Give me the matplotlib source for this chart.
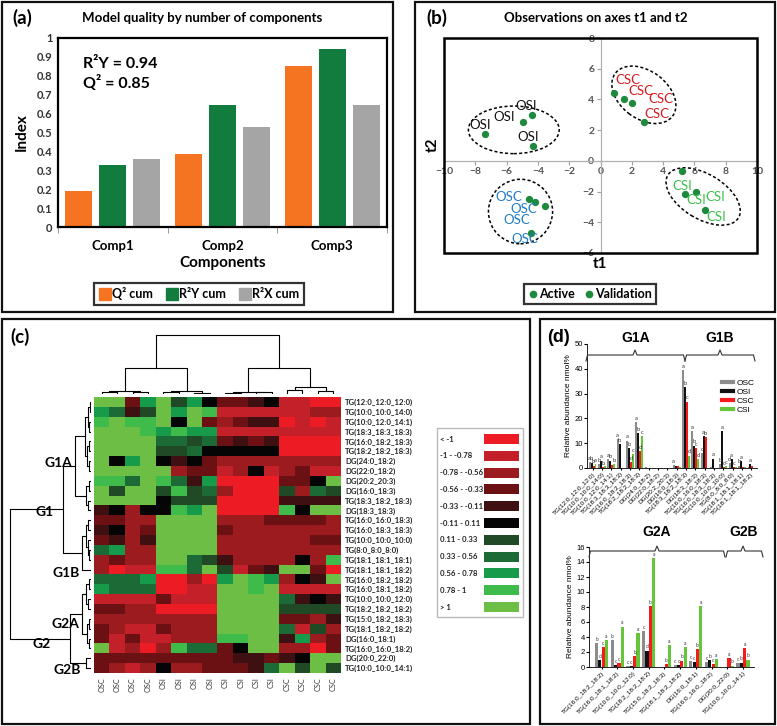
import numpy as np
import matplotlib
matplotlib.use('Agg')
import matplotlib.pyplot as plt
from matplotlib.colors import ListedColormap, BoundaryNorm
from matplotlib.patches import Rectangle, Ellipse
from matplotlib.lines import Line2D

W, H = 777, 726
plt.rcParams['font.family'] = ['Lato', 'DejaVu Sans']

# ---------------- (a) model quality by number of components
components = ['Comp1', 'Comp2', 'Comp3']
q2_cum = [0.19, 0.385, 0.85]
r2y_cum = [0.33, 0.645, 0.94]
r2x_cum = [0.36, 0.53, 0.645]

# ---------------- (b) observations on t1 / t2
score_groups = ['OSI', 'OSC', 'CSC', 'CSI']
osi_t1 = [-7.39, -4.96, -4.39, -4.30]
osi_t2 = [1.78, 2.54, 2.97, 1.00]
osc_t1 = [-4.54, -4.18, -3.54, -4.45]
osc_t2 = [-2.47, -2.71, -2.97, -4.69]
csc_t1 = [0.89, 1.53, 2.02, 2.77]
csc_t2 = [4.41, 4.01, 3.75, 2.54]
csi_t1 = [5.18, 5.41, 6.13, 6.69]
csi_t2 = [-0.63, -2.15, -2.04, -3.21]

# ---------------- (c) heatmap (colour class -5 .. 5, see legend)
lipids = ['TG(12:0_12:0_12:0)', 'TG(10:0_10:0_14:0)', 'TG(10:0_12:0_14:1)',
          'TG(18:3_18:3_18:3)', 'TG(16:0_18:2_18:3)', 'TG(18:2_18:2_18:3)',
          'DG(24:0_18:2)', 'DG(22:0_18:2)', 'DG(20:2_20:3)', 'DG(16:0_18:3)',
          'TG(18:3_18:2_18:3)', 'DG(18:3_18:3)', 'TG(16:0_16:0_18:3)',
          'TG(16:0_18:3_18:3)', 'TG(10:0_10:0_10:0)', 'TG(8:0_8:0_8:0)',
          'TG(18:1_18:1_18:1)', 'TG(18:1_18:1_18:2)', 'TG(16:0_18:2_18:2)',
          'TG(16:0_18:1_18:2)', 'TG(10:0_10:0_12:0)', 'TG(18:2_18:2_18:2)',
          'TG(15:0_18:2_18:3)', 'TG(18:1_18:2_18:2)', 'DG(16:0_18:1)',
          'TG(16:0_16:0_18:2)', 'DG(20:0_22:0)', 'TG(10:0_10:0_14:1)']
samples = ['OSC'] * 4 + ['OSI'] * 4 + ['CSI'] * 4 + ['CSC'] * 4
heat = [
    [5, 5, -2, 3, 5, 1, 3, 0, -2, -2, -1, 0, -4, -4, -5, -5],
    [3, 2, -1, 1, 5, 3, 5, 4, -4, -4, -4, -4, -4, -4, -3, -3],
    [4, 5, 4, 4, 5, 0, 5, -2, -3, -2, -1, -1, -5, -4, -5, -4],
    [5, 5, 5, 4, 3, 4, 3, 3, -4, -4, -4, -4, -4, -4, -4, -4],
    [5, 5, 5, 5, 2, 2, 1, 2, -2, -1, -2, -1, -5, -5, -5, -5],
    [5, 5, 5, 5, 1, 1, 2, 0, 0, 0, 0, 0, -5, -5, -5, -5],
    [5, 0, 3, 5, 0, -1, 0, -2, -3, -3, -3, -3, -3, -3, -3, -3],
    [5, 5, 5, 5, 5, -3, -2, -2, -4, -3, 0, -4, -3, -2, -4, -4],
    [4, 4, 2, 5, 4, 2, -1, 3, -5, -5, -5, -5, -2, -2, 0, 5],
    [5, 1, 5, 5, 1, 4, 1, 2, -3, -5, -5, -5, 1, -3, 2, 1],
    [5, 5, 5, 5, 0, 1, 1, 1, -5, -5, -5, -5, -1, -1, -1, -1],
    [-1, 0, -3, 0, 0, 4, 3, 5, -5, -5, -5, -5, 4, 0, 5, 5],
    [-2, -2, -3, -3, 5, 5, 5, 5, -3, -3, -3, -2, -2, -2, -2, -3],
    [-1, 0, -3, -2, 5, 5, 5, 5, -2, -3, -3, -3, -3, -3, -3, -3],
    [-2, -1, -3, -1, 5, 5, 5, 5, -3, -3, -3, -3, -3, -3, -2, -2],
    [2, 3, -3, -3, 5, 5, 5, 5, -3, -3, -3, -3, -3, -3, -3, -3],
    [-3, -2, -3, -3, 5, 5, 2, 1, -1, -3, -3, -3, -3, 0, -3, 4],
    [-3, -5, -4, -4, 4, 4, 2, 5, 1, -4, -2, -1, 5, 5, -2, -5],
    [2, 2, 2, 3, -5, -5, -3, -5, 3, 5, 4, 3, -3, 0, -1, 5],
    [3, 2, 2, 2, -5, -5, -4, -4, 5, 5, 4, 5, -4, -4, -4, -4],
    [-4, -4, -4, -4, -2, -4, -4, -4, 5, 5, 5, 5, 2, -1, 0, -1],
    [-2, -2, -3, -3, -5, -5, -5, -5, 5, 5, 5, 5, 1, 1, 1, 1],
    [-3, -3, -3, -3, -3, -3, -3, -3, 5, 5, 5, 5, -2, -2, -3, -1],
    [-2, -3, -4, -4, -2, -3, -3, -3, 5, 5, 5, 5, 2, -4, 1, -3],
    [-2, -4, -2, -4, -4, -3, -3, -3, 4, 4, 5, 5, -1, 3, -3, -2],
    [5, -4, -3, -5, -3, 4, 2, 2, -2, 0, 5, 5, -3, -3, -5, -2],
    [-2, -2, -2, -2, -2, -2, -2, -2, -2, -1, -1, -2, -1, 0, 5, 5],
    [-2, -3, -4, -3, 0, -3, -3, -2, -2, -2, -1, 2, 5, 1, 5, 1],
]
bin_labels = ['< -1', '-1 - -0.78', '-0.78 - -0.56', '-0.56 - -0.33', '-0.33 - -0.11',
              '-0.11 - 0.11', '0.11 - 0.33', '0.33 - 0.56', '0.56 - 0.78', '0.78 - 1', '> 1']
bin_colors = ['#ED1C24', '#C4202A', '#9B1B1F', '#6B1013', '#3E1011', '#050505',
              '#1F4A25', '#1C6A36', '#169B4A', '#3EBB4B', '#6CBE45']

# dendrograms: (height, left, right), leaves are column / row indices
col_tree = (56, (25, (3, (1.5, 0, 1), (1.5, 2, 3)), (3, (1.5, 4, 5), (1.0, 6, 7))),
            (25, (2, (1.0, 8, 9), (1.5, 10, 11)), (7, (4, 12, 13), (2.5, 14, 15))))
g1a = (16, (6, (3, (1.5, 0, 1), (2, 2, 3)), (4, (2.5, 4, 5), (2, 6, 7))),
       (5, (2.5, 8, 9), (3, 10, 11)))
g1b = (9, (5, (3, 12, 13), (3.5, 14, (2, 15, 16))), 17)
g2a = (9, (5, (2, 18, 19), (3, 20, 21)), (4, (2, 22, 23), (2.5, 24, 25)))
g2b = (5, 26, 27)
row_tree = (81, (28, g1a, g1b), (21, g2a, g2b))

# ---------------- (d) relative abundance
g1_names = lipids[:18]
g1_osc = [2.5, 1.5, 3.5, 11.5, 11.0, 18.5, 0.3, 0.2, 0.1, 1.2, 39.5, 15.0, 6.0, 0.3, 1.5, 2.0, 1.0, 0.5]
g1_osi = [2.2, 3.0, 3.0, 9.5, 8.0, 14.0, 0.2, 0.1, 0.1, 1.0, 32.5, 9.0, 13.0, 3.8, 15.0, 3.5, 2.8, 1.5]
g1_csc = [1.0, 0.3, 1.2, 0.2, 2.5, 6.8, 0.1, 0.1, 0.1, 0.8, 26.8, 8.0, 12.5, 0.2, 0.5, 0.3, 0.3, 0.7]
g1_csi = [1.5, 0.8, 1.5, 0.2, 5.5, 13.0, 0.1, 0.1, 0.1, 0.3, 5.0, 3.5, 0.2, 0.1, 0.8, 0.5, 0.3, 0.2]
g1_letters = ['abba', 'bab ', 'ab b', 'ab  ', 'abdc', 'abdc', '    ', '    ', '    ', 'a   ',
              'abcd', 'abcd', 'cab ', ' a  ', 'bacc', 'dac ', 'ba  ', ' a  ']
g2_names = lipids[18:]
g2_osc = [3.2, 3.6, 0.1, 4.8, 0.0, 0.3, 0.8, 0.7, 0.0, 0.5]
g2_osi = [0.9, 0.3, 0.1, 2.2, 0.0, 0.3, 0.7, 0.9, 0.0, 0.6]
g2_csc = [2.7, 0.5, 1.5, 8.1, 0.35, 0.85, 2.4, 0.4, 1.2, 2.5]
g2_csi = [3.6, 5.4, 4.5, 14.5, 2.9, 2.7, 8.1, 1.1, 0.2, 1.0]
g2_letters = ['bdca', 'bcca', 'ccba', 'cdba', '  ba', 'ccba', 'ccba', 'cbca', '  ab', 'cbab']

fig = plt.figure(figsize=(W / 100, H / 100), dpi=100)


def px_axes(x0, y0, x1, y1):
    return fig.add_axes([x0 / W, 1 - y1 / H, (x1 - x0) / W, (y1 - y0) / H])


def bold_ticks(ax):
    for t in ax.get_xticklabels() + ax.get_yticklabels():
        t.set_fontweight('bold')


# ===== (a)
ax = px_axes(58, 38, 387, 227)
x = np.arange(len(components))
ax.bar(x - 0.31, q2_cum, 0.245, color='#F47421', label='Q² cum')
ax.bar(x, r2y_cum, 0.245, color='#127C3F', label='R²Y cum')
ax.bar(x + 0.31, r2x_cum, 0.245, color='#A5A5A5', label='R²X cum')
ax.set_xlim(-0.5, 2.5)
ax.set_ylim(0, 1)
ax.set_yticks(np.arange(0, 1.01, 0.1))
ax.set_yticklabels([f'{v:g}' for v in np.arange(0, 1.01, 0.1)])
ax.set_xticks(x)
ax.set_xticklabels(components)
ax.set_xticks([-0.5, 0.5, 1.5, 2.5], minor=True)
ax.tick_params(axis='x', which='major', length=0, pad=9, labelsize=9.5)
ax.tick_params(axis='x', which='minor', length=4, color='#888888', direction='out')
ax.tick_params(axis='y', length=0, pad=4, labelsize=8, labelcolor='#333333')
bold_ticks(ax)
for s in ax.spines.values():
    s.set_linewidth(1.6)
ax.set_xlabel('Components', fontsize=11, fontweight='bold', labelpad=3)
ax.set_ylabel('Index', fontsize=11, fontweight='bold', labelpad=6)
ax.text(0.076, 0.86, 'R²Y = 0.94', transform=ax.transAxes, fontsize=11.5, fontweight='bold', va='center')
ax.text(0.076, 0.76, 'Q² = 0.85', transform=ax.transAxes, fontsize=11.5, fontweight='bold', va='center')
hs = [Line2D([], [], marker='s', ls='none', markersize=8.5, color=c) for c in ['#F47421', '#127C3F', '#A5A5A5']]
leg = ax.legend(hs, ['Q² cum', 'R²Y cum', 'R²X cum'], loc='center', ncol=3,
                bbox_to_anchor=(199 / W, 1 - 294 / H), bbox_transform=fig.transFigure,
                prop={'weight': 'bold', 'size': 9}, fancybox=False, edgecolor='black',
                handletextpad=0.1, columnspacing=1.0, borderpad=0.35, handlelength=1.0)
leg.get_frame().set_linewidth(1.6)

# ===== (b)
ax = px_axes(444, 38, 757, 253)
ax.set_xlim(-10, 10)
ax.set_ylim(-6, 8)
for side in ['top', 'right']:
    ax.spines[side].set_visible(False)
for side in ['left', 'bottom']:
    ax.spines[side].set_position(('data', 0))
    ax.spines[side].set_color('#B0B0B0')
    ax.spines[side].set_linewidth(0.9)
ax.add_patch(Rectangle((0, 0), 1, 1, transform=ax.transAxes, fill=False, lw=1.8,
                       ec='black', clip_on=False, zorder=5))
ax.set_xticks(np.arange(-10, 11, 2))
ax.set_yticks(np.arange(-6, 9, 2))
ax.tick_params(direction='out', length=3, color='#A0A0A0', labelsize=7.5, labelcolor='#555555', pad=1.5)
bold_ticks(ax)
pts_t1 = osi_t1 + osc_t1 + csc_t1 + csi_t1
pts_t2 = osi_t2 + osc_t2 + csc_t2 + csi_t2
ax.scatter(pts_t1, pts_t2, s=18, color='#1E8A3E', zorder=4)
label_colors = {'OSI': '#111111', 'OSC': '#1F7BC8', 'CSC': '#D71A20', 'CSI': '#3CBE4A'}
label_xy = {'OSI': [(-7.67, 2.34), (-6.18, 2.84), (-4.75, 3.54), (-4.62, 1.58)],
            'OSC': [(-5.86, -2.37), (-4.90, -3.15), (-5.37, -3.88), (-4.86, -5.10)],
            'CSC': [(1.75, 5.25), (2.55, 4.55), (3.83, 4.02), (3.62, 3.05)],
            'CSI': [(5.22, -1.61), (6.13, -2.54), (7.35, -2.36), (7.41, -3.67)]}
for g in score_groups:
    for (lx, ly) in label_xy[g]:
        ax.text(lx, ly, g, color=label_colors[g], fontsize=9.5, ha='center', va='center', zorder=4)
ellipses = [((-5.54, 2.02), 5.8, 3.1, 0), ((-5.11, -3.30), 4.1, 4.2, 0),
            ((2.77, 4.30), 4.6, 3.1, -38), ((6.56, -2.32), 5.3, 2.9, -32)]
for c, w, h, a in ellipses:
    ax.add_patch(Ellipse(c, w, h, angle=a, fill=False, ls=(0, (2, 1.5)), lw=1.1, ec='black'))
hs = [Line2D([], [], marker='o', ls='none', markersize=4.5, color='#1E8A3E')] * 2
leg = ax.legend(hs, ['Active', 'Validation'], loc='center', ncol=2,
                bbox_to_anchor=(590 / W, 1 - 294 / H), bbox_transform=fig.transFigure,
                prop={'weight': 'bold', 'size': 9}, fancybox=False, edgecolor='black',
                handletextpad=0.1, columnspacing=0.7, borderpad=0.35, handlelength=0.8)
leg.get_frame().set_linewidth(1.6)


# ===== (c)
def draw_tree(ax, node, vertical):
    if isinstance(node, int):
        return node, 0.0
    h, left, right = node
    pl, hl = draw_tree(ax, left, vertical)
    pr, hr = draw_tree(ax, right, vertical)
    pos, hts = [pl, pl, pr, pr], [hl, h, h, hr]
    if vertical:
        ax.plot(pos, hts, color='black', lw=0.8)
    else:
        ax.plot(hts, pos, color='black', lw=0.8)
    return (pl + pr) / 2, h


ax = px_axes(94, 397, 341, 673)
cmap = ListedColormap(bin_colors)
norm = BoundaryNorm(np.arange(-5.5, 6.5, 1), cmap.N)
ax.imshow(np.array(heat), cmap=cmap, norm=norm, aspect='auto', interpolation='nearest')
ax.set_xticks(np.arange(len(samples)))
ax.set_xticklabels(samples, rotation=90, fontsize=5.2, color='#333333')
ax.set_yticks(np.arange(len(lipids)))
ax.set_yticklabels(lipids, fontsize=5.6, fontweight='bold', color='#222222')
ax.yaxis.tick_right()
ax.tick_params(length=0, pad=3)
for s in ax.spines.values():
    s.set_visible(False)

axd = px_axes(94, 333, 341, 394)
draw_tree(axd, col_tree, True)
axd.set_xlim(-0.5, len(samples) - 0.5)
axd.set_ylim(0, 58)
axd.axis('off')

axd = px_axes(6, 397, 91, 673)
draw_tree(axd, row_tree, False)
axd.set_ylim(len(lipids) - 0.5, -0.5)
axd.set_xlim(85, 0)
axd.axis('off')

# ===== (d)
bar_cols = ['#8C8C8C', '#111111', '#F51B1B', '#66C63A']
offs = [-0.315, -0.105, 0.105, 0.315]


def abundance(ax, names, series, letters, ymax, ystep, fs):
    xx = np.arange(len(names))
    for k, vals in enumerate(series):
        ax.bar(xx + offs[k], vals, 0.2, color=bar_cols[k])
        for i, v in enumerate(vals):
            if letters[i][k] != ' ':
                ax.text(i + offs[k], v + ymax * 0.01, letters[i][k], fontsize=fs,
                        ha='center', va='bottom', color='#333333')
    ax.set_ylim(0, ymax)
    ax.set_yticks(np.arange(0, ymax + 0.1, ystep))
    ax.set_xticks(xx)
    ax.set_xticklabels(names, rotation=45, ha='right', rotation_mode='anchor', fontsize=4.6)
    ax.tick_params(axis='y', labelsize=5.5, length=2, pad=1)
    ax.tick_params(axis='x', length=1.5, pad=1)
    ax.spines['top'].set_visible(False)
    ax.spines['right'].set_visible(False)
    for s in ['left', 'bottom']:
        ax.spines[s].set_linewidth(0.6)
    ax.set_ylabel('Relative abundance nmol%', fontsize=6, labelpad=2)
    for t in ax.get_xticklabels() + ax.get_yticklabels():
        t.set_fontfamily('Liberation Sans')
    ax.yaxis.label.set_fontfamily('Liberation Sans')


ax = px_axes(587, 344, 757, 468)
abundance(ax, g1_names, [g1_osc, g1_osi, g1_csc, g1_csi], g1_letters, 50, 10, 4.2)
ax.set_xlim(-0.6, 17.6)
hs = [Line2D([], [], color=c, lw=3) for c in bar_cols]
ax.legend(hs, ['OSC', 'OSI', 'CSC', 'CSI'], loc='upper left',
          bbox_to_anchor=(718 / W, 1 - 375 / H), bbox_transform=fig.transFigure,
          frameon=False, prop={'family': 'Liberation Sans', 'size': 6},
          handlelength=1.3, handletextpad=0.4, labelspacing=0.15, borderpad=0)

ax = px_axes(589, 547, 754, 667)
abundance(ax, g2_names, [g2_osc, g2_osi, g2_csc, g2_csi], g2_letters, 16, 2, 3.6)
ax.set_xlim(-0.8, 9.7)

# ===== overlay: panel frames, titles, group labels, heatmap key, braces
ov = px_axes(0, 0, W, H)
ov.set_xlim(0, W)
ov.set_ylim(H, 0)
ov.axis('off')
ov.patch.set_alpha(0)
for x0, y0, x1, y1 in [(2, 2, 393, 312), (415, 2, 775, 312), (2, 319, 530, 724), (540, 319, 775, 724)]:
    ov.add_patch(Rectangle((x0, y0), x1 - x0, y1 - y0, fill=False, ec='#111111', lw=1.6))
ov.text(12, 18, '(a)', fontsize=13.5, fontweight='bold', va='center')
ov.text(202, 18, 'Model quality by number of components', fontsize=9.5, fontweight='bold',
        ha='center', va='center')
ov.text(426, 18, '(b)', fontsize=13.5, fontweight='bold', va='center')
ov.text(596, 18, 'Observations on axes t1 and t2', fontsize=9.5, fontweight='bold',
        ha='center', va='center')
ov.text(600, 264, 't1', fontsize=11, fontweight='bold', ha='center', va='center')
ov.text(433, 145, 't2', fontsize=11, fontweight='bold', ha='center', va='center', rotation=90)
ov.text(10, 337, '(c)', fontsize=13.5, fontweight='bold', va='center')
for txt, gx, gy in [('G1A', 58, 463), ('G1', 45, 512), ('G1B', 66, 573),
                    ('G2A', 65, 624), ('G2', 42, 644), ('G2B', 67, 670)]:
    ov.text(gx, gy, txt, fontsize=10, fontweight='bold', ha='center', va='center')
ov.add_patch(Rectangle((437, 428), 86, 189, fill=False, ec='#BBBBBB', lw=1))
for i, (lab, col) in enumerate(zip(bin_labels, bin_colors)):
    yy = 439 + 16.8 * i
    ov.text(440, yy, lab, fontsize=5.6, fontweight='bold', va='center', color='#222222')
    ov.add_patch(Rectangle((484, yy - 5), 35, 10, fc=col, ec='none'))
ov.text(547, 337, '(d)', fontsize=13, fontweight='bold', va='center', family='Liberation Sans')


def brace(x0, x1, xm, y, drop=6, peak=5):
    xs = [x0, x0 + 1.5, xm - 2, xm, xm + 2, x1 - 1.5, x1]
    ys = [y + drop, y, y, y - peak, y, y, y + drop]
    ov.plot(xs, ys, color='#333333', lw=0.8)


brace(586, 685, 635, 355)
brace(685, 755, 720, 355)
brace(589, 725, 657, 551)
brace(726, 763, 743, 551)
for txt, gx, gy in [('G1A', 636, 338), ('G1B', 720, 338), ('G2A', 657, 532), ('G2B', 744, 532)]:
    ov.text(gx, gy, txt, fontsize=10, fontweight='bold', ha='center', va='center',
            family='Liberation Sans')

fig.savefig('out.png', dpi=100)
